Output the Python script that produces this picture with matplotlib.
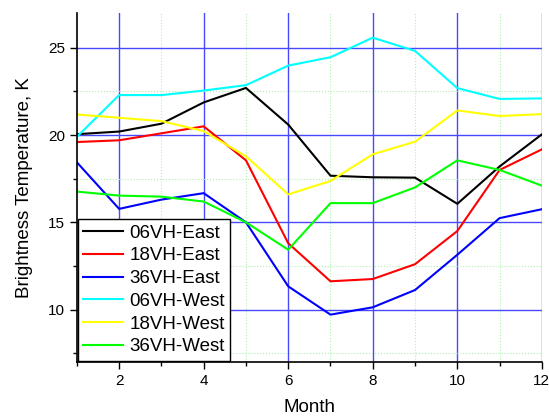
import matplotlib.pyplot as plt
from matplotlib.ticker import MultipleLocator

plt.rcParams['font.family'] = ['Liberation Sans', 'DejaVu Sans']

months = list(range(1, 13))
series_names = ['06VH-East', '18VH-East', '36VH-East', '06VH-West', '18VH-West', '36VH-West']
series_colors = ['black', 'red', 'blue', 'cyan', 'yellow', 'lime']

east_06 = [20.05, 20.2, 20.65, 21.87, 22.7, 20.6, 17.67, 17.58, 17.56, 16.06, 18.2, 20.04]
east_18 = [19.6, 19.7, 20.1, 20.5, 18.55, 13.8, 11.62, 11.75, 12.6, 14.5, 18.0, 19.18]
east_36 = [18.44, 15.77, 16.3, 16.67, 15.0, 11.33, 9.71, 10.13, 11.12, 13.14, 15.24, 15.75]
west_06 = [19.9, 22.29, 22.29, 22.55, 22.86, 23.98, 24.46, 25.58, 24.82, 22.69, 22.07, 22.1]
west_18 = [21.18, 20.99, 20.8, 20.23, 18.78, 16.6, 17.37, 18.9, 19.62, 21.41, 21.09, 21.2]
west_36 = [16.76, 16.53, 16.47, 16.19, 15.0, 13.43, 16.1, 16.1, 17.0, 18.55, 18.0, 17.1]

all_series = [east_06, east_18, east_36, west_06, west_18, west_36]

fig = plt.figure(figsize=(5.49, 4.16), dpi=100)
ax = fig.add_axes([0.140, 0.130, 0.847, 0.839])

# grid first so lines sit on top
ax.xaxis.set_major_locator(MultipleLocator(2))
ax.xaxis.set_minor_locator(MultipleLocator(1))
ax.yaxis.set_major_locator(MultipleLocator(5))
ax.yaxis.set_minor_locator(MultipleLocator(2.5))
ax.grid(which='major', color='#4848ff', linewidth=1.0, linestyle='-')
ax.grid(which='minor', color='#b0f0b0', linewidth=0.8, linestyle=':')
ax.set_axisbelow(True)

for name, col, vals in zip(series_names, series_colors, all_series):
    ax.plot(months, vals, color=col, linewidth=1.5, label=name)

ax.set_xlim(1, 12)
ax.set_ylim(7, 27)

for side in ['top', 'right']:
    ax.spines[side].set_visible(False)
ax.spines['left'].set_linewidth(1.2)
ax.spines['bottom'].set_linewidth(1.2)

ax.tick_params(which='major', direction='out', length=5, width=1, labelsize=11)
ax.tick_params(which='minor', direction='out', length=3, width=1)

ax.set_xlabel('Month', fontsize=13.5, labelpad=8)
ax.set_ylabel('Brightness Temperature, K', fontsize=13.5, labelpad=11)

leg = ax.legend(loc='lower left', fontsize=13.5, frameon=True, fancybox=False,
                borderaxespad=0.05, handlelength=2.1, labelspacing=0.3,
                handletextpad=0.35, borderpad=0.3)
leg.get_frame().set_edgecolor('black')
leg.get_frame().set_linewidth(1.0)
leg.get_frame().set_alpha(1.0)

fig.savefig('out.png', dpi=100)
